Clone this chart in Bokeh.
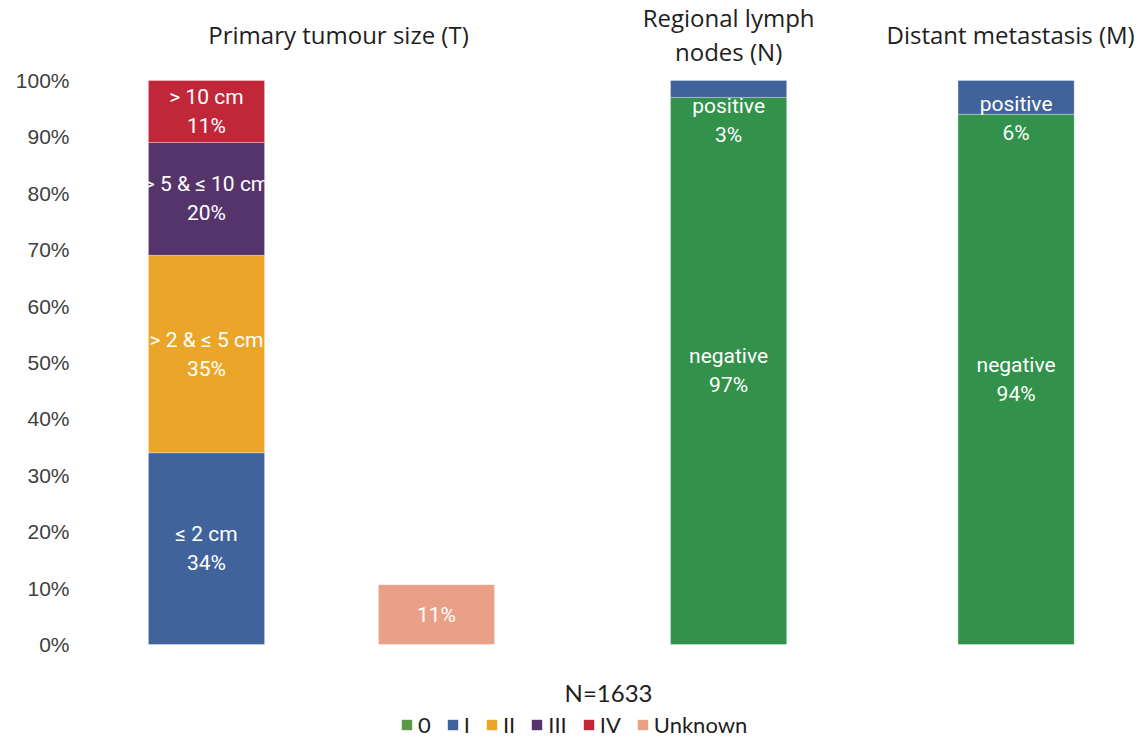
from bokeh.plotting import figure
from bokeh.models import FixedTicker, Legend, LegendItem, Range1d, ColumnDataSource
from bokeh.core.properties import value
from bokeh.embed import file_html
from bokeh.resources import INLINE

# ---------------- data ----------------
stages = ["0", "I", "II", "III", "IV", "Unknown"]
stage_colors = ["#32914a", "#40639b", "#eba62a", "#55336b", "#c0283a", "#eaa086"]
legend_colors = ["#5a9a46", "#40639b", "#eba62a", "#55336b", "#c0283a", "#eaa086"]

t_labels = ["≤ 2 cm", "> 2 & ≤ 5 cm", "> 5 & ≤ 10 cm", "> 10 cm"]
t_stages = ["I", "II", "III", "IV"]
t_values = [34, 35, 20, 11]

unknown_values = [10.6]

n_labels = ["negative", "positive"]
n_stages = ["0", "I"]
n_values = [97, 3]

m_labels = ["negative", "positive"]
m_stages = ["0", "I"]
m_values = [94, 6]

group_titles = [["Primary tumour size (T)"], ["Regional lymph", "nodes (N)"], ["Distant metastasis (M)"]]
y_ticks = [0, 10, 20, 30, 40, 50, 60, 70, 80, 90, 100]
n_total = "N=1633"

# ---------------- layout constants ----------------
X_T, X_U, X_N, X_M = 1.0, 2.0, 3.27, 4.52
BAR_W = 0.505
TITLE_X = [1.574, 3.27, 4.496]
TITLE_Y = 108.1
LABEL_FONT = "Roboto"
TITLE_FONT = "Open Sans"
SANS = "Lato"

W, H = 1139, 741
p = figure(width=W, height=H, output_backend="svg", toolbar_location=None,
           x_range=Range1d(0.4522, 5.0565), y_range=Range1d(-17.2, 114.18),
           min_border_left=80, min_border_right=0, min_border_top=0, min_border_bottom=0)
p.xaxis.visible = False
p.xgrid.visible = False
p.ygrid.visible = False
p.outline_line_color = None
p.background_fill_color = "white"
p.border_fill_color = "white"

ax = p.yaxis[0]
ax.ticker = FixedTicker(ticks=y_ticks)
ax.major_label_overrides = {t: f"{t}%" for t in y_ticks}
ax.axis_line_color = None
ax.major_tick_line_color = None
ax.minor_tick_line_color = None
ax.major_tick_out = 0
ax.major_tick_in = 0
ax.minor_tick_out = 0
ax.major_label_standoff = 11
ax.major_label_text_font = "Liberation Sans"
ax.major_label_text_font_size = "21px"
ax.major_label_text_color = "#404040"

color_of = dict(zip(stages, stage_colors))


def stacked(x, labels, stgs, vals, label_cap=None):
    bottoms, tops, cols, l1, l2, ly = [], [], [], [], [], []
    acc = 0
    for lab, s, v in zip(labels, stgs, vals):
        bottoms.append(acc)
        tops.append(acc + v)
        cols.append(color_of[s])
        c = acc + v / 2
        if label_cap is not None:
            c = min(c, label_cap)
        ly.append(c)
        l1.append(lab)
        l2.append(f"{round(v)}%")
        acc += v
    src = ColumnDataSource(dict(x=[x] * len(vals), bottom=bottoms, top=tops, color=cols,
                                l1=l1, l2=l2, ly=ly))
    p.vbar(x="x", width=BAR_W, bottom="bottom", top="top", fill_color="color",
           line_color="white", line_width=0.5, line_alpha=0.6, source=src)
    for col, off in (("l1", -14.5), ("l2", 14.5)):
        p.text(x="x", y="ly", text=col, source=src, y_offset=off, text_color="white",
               text_align="center", text_baseline="middle",
               text_font=value(LABEL_FONT), text_font_size="21px")


stacked(X_T, t_labels, t_stages, t_values)
stacked(X_N, n_labels, n_stages, n_values, label_cap=92.9)
stacked(X_M, m_labels, m_stages, m_values, label_cap=93.2)

# unknown bar
usrc = ColumnDataSource(dict(x=[X_U], top=unknown_values, lab=[f"{round(v)}%" for v in unknown_values],
                             ly=[v / 2 for v in unknown_values]))
p.vbar(x="x", width=BAR_W, bottom=0, top="top", fill_color=color_of["Unknown"],
       line_color="white", line_width=0.5, line_alpha=0.6, source=usrc)
p.text(x="x", y="ly", text="lab", source=usrc, text_color="white", text_align="center",
       text_baseline="middle", text_font=value(LABEL_FONT), text_font_size="21px")

# group titles
for tx, lines in zip(TITLE_X, group_titles):
    n = len(lines)
    for i, line in enumerate(lines):
        off = (i - (n - 1) / 2) * 34
        p.text(x=[tx], y=[TITLE_Y], text=[line], y_offset=off, text_color="#1e1e1e",
               text_align="center", text_baseline="middle",
               text_font=value(TITLE_FONT), text_font_size="24px")

# N total
p.text(x=[2.748], y=[-8.5], text=[n_total], text_color="#1e1e1e", text_align="center",
       text_baseline="middle", text_font=value(SANS), text_font_size="24px")

# legend (zero-height proxy bars carry the legend swatches)
items = []
for s, c in zip(stages, legend_colors):
    r = p.vbar(x=[X_U], width=0.01, bottom=[0], top=[0], fill_color=c, line_color=None)
    items.append(LegendItem(label=s, renderers=[r]))
legend = Legend(items=items, orientation="horizontal", location=(320, 3),
                glyph_width=13, glyph_height=13, label_standoff=5, spacing=15,
                label_width=0, label_height=16,
                label_text_font=SANS, label_text_font_size="22px", label_text_color="#1e1e1e",
                border_line_color=None, background_fill_alpha=0, padding=0, margin=0)
p.add_layout(legend)

open("out.html", "w").write(file_html(p, INLINE))
